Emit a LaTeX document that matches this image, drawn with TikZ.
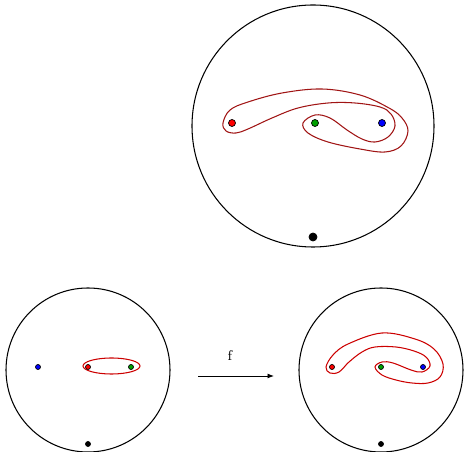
\documentclass[tikz,border=0pt]{standalone}
\usepackage{xcolor}
\usepackage{tikz}
\usetikzlibrary{arrows.meta,positioning}

\definecolor{loopred}{RGB}{160,20,20}
\definecolor{ptgreen}{RGB}{0,160,0}

\begin{document}
\begin{tikzpicture}[
  x=0.02cm, y=-0.02cm,
  disk/.style={draw, line width=0.6pt},
  loopline/.style={draw=loopred, line width=0.6pt},
  bigpt/.style={circle, draw, line width=0.4pt, inner sep=0pt, minimum size=0.14cm},
  smallpt/.style={circle, draw, line width=0.4pt, inner sep=0pt, minimum size=0.1cm},
  arr/.style={-{Latex[length=1.3mm,width=1mm]}, line width=0.5pt}
]
\useasboundingbox (0,0) rectangle (464,452);

% top disk
\draw[disk] (313,126) circle[radius=121];
\draw[loopline] plot[smooth cycle, tension=0.6] coordinates {
  (223,123) (230,110) (248,102) (282,93) (322,89) (360,95) (389,108)
  (402,118) (408,131) (401,146) (385,152) (360,149) (328,142) (308,133)
  (303,123) (315,115) (330,118) (347,130) (362,139) (375,142) (388,137)
  (395,126) (391,114) (380,107) (355,103) (328,103) (298,108) (272,118)
  (248,129) (236,133) (226,131)};
\node[bigpt, fill=red]      (ta) at (232,123) {};
\node[bigpt, fill=ptgreen]  (tb) at (315,123) {};
\node[bigpt, fill=blue]     (tc) at (382,123) {};
\node[bigpt, fill=black, minimum size=0.16cm] (tbase) at (313,237) {};

% bottom left disk
\draw[disk] (88,370) circle[radius=82];
\draw[loopline, draw=red!80!black] (111.5,366) ellipse[x radius=28.5, y radius=8];
\node[smallpt, fill=blue]    (lc) at (38,367) {};
\node[smallpt, fill=red]     (la) at (88,367) {};
\node[smallpt, fill=ptgreen] (lb) at (131,367) {};
\node[smallpt, fill=black]   (lbase) at (88,444) {};

% map
\coordinate (fstart) at (198,376);
\coordinate (fend) at (274,376);
\draw[arr] (fstart) -- node[pos=0.42, above=0.18cm, font=\footnotesize] {f} (fend);

% bottom right disk
\draw[disk] (381,370) circle[radius=82];
\draw[loopline, draw=red!80!black] plot[smooth cycle, tension=0.6] coordinates {
  (326,367) (333,355) (348,344) (382,333) (415,339) (434,349) (443,364)
  (440,377) (428,383) (412,383) (396,380) (382,375) (375,367) (382,362)
  (393,363) (411,370) (422,372) (430,366) (426,357) (414,351) (396,347)
  (375,347) (362,352) (349,362) (339,372) (330,373)};
\node[smallpt, fill=red]     (ra) at (332,367) {};
\node[smallpt, fill=ptgreen] (rb) at (381,367) {};
\node[smallpt, fill=blue]    (rc) at (423,367) {};
\node[smallpt, fill=black]   (rbase) at (381,444) {};
\end{tikzpicture}
\end{document}
